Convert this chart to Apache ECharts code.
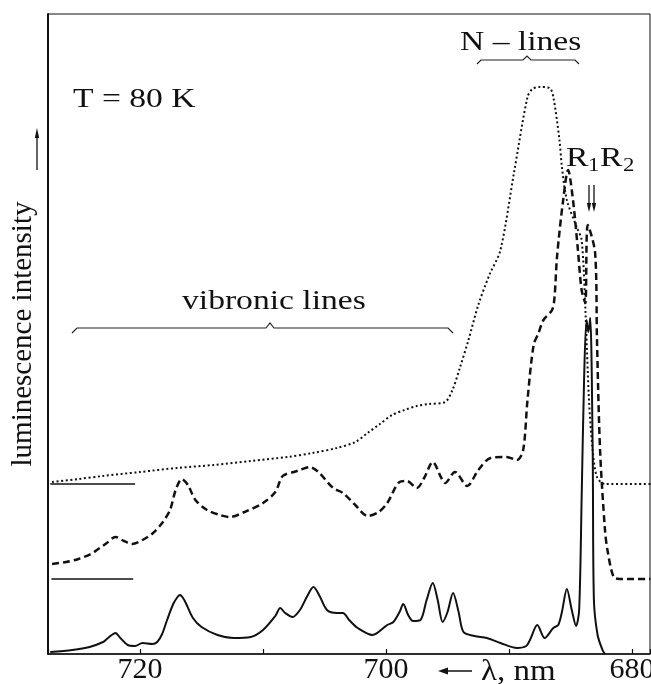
<!DOCTYPE html>
<html>
<head>
<meta charset="utf-8">
<script src="https://cdn.jsdelivr.net/npm/echarts@6/dist/echarts.min.js"></script>
<style>html,body{margin:0;padding:0;background:#fff;}#c{width:651px;height:684px;}</style>
</head>
<body>
<div id="c"></div>
<script>
// wavelength (nm) , intensity (arb. units)
const solidCurve = [[727.3,2],[725.5,4],[724.1,7],[723.0,12],[722.7,15],[722.3,19],[722.0,21],[721.6,16],[721.0,9],[720.4,8],[719.8,11],[719.0,10],[718.6,12],[718.2,20],[717.8,34],[717.3,50],[716.95,57],[716.75,59],[716.5,56],[716.2,49],[715.7,36],[715.0,27],[713.7,19],[712.4,16],[711.0,17],[710.0,24],[709.0,38],[708.6,46],[708.2,41],[707.6,37],[707.0,44],[706.4,58],[705.9,67],[705.4,58],[704.8,44],[704.0,41],[703.5,41],[703.0,34],[702.3,26],[701.1,19],[699.9,29],[699.4,32],[698.9,42],[698.6,50],[698.2,39],[697.8,33],[697.2,34],[696.7,54],[696.2,71],[695.8,54],[695.4,32],[695.0,42],[694.55,61],[694.1,42],[693.7,22],[692.8,18],[691.8,16],[690.7,11],[689.35,6],[688.6,8],[688.3,14],[687.7,29],[687.1,16],[686.4,26],[686.0,29],[685.7,42],[685.3,65],[684.9,44],[684.55,28],[684.3,44],[684.1,154],[683.9,274],[683.7,334],[683.55,322],[683.4,336],[683.2,204],[683.1,54],[682.8,19],[682.4,4],[682.2,0]];
const dashedCurve = [[727.15,90],[726.0,92],[725.0,95],[724.0,100],[723.5,104],[722.7,111],[722.0,117],[721.3,113],[720.65,110],[719.8,114],[718.94,121],[718.2,131],[717.56,144],[717.1,164],[716.6,175],[716.1,169],[715.5,154],[714.55,144],[713.5,139],[712.7,137],[711.5,142],[710.0,151],[709.0,162],[708.4,178],[707.5,182],[707.0,184],[706.2,187],[705.5,182],[704.3,166],[703.5,161],[702.5,149],[701.5,138],[700.6,142],[699.9,151],[698.9,172],[698.3,173],[697.5,166],[696.9,176],[696.2,192],[695.5,176],[695.2,171],[694.4,182],[693.4,168],[692.5,184],[691.5,196],[690.2,197],[689.35,194],[688.85,204],[688.5,254],[688.0,309],[687.6,321],[687.2,334],[686.5,344],[686.3,357],[686.1,397],[685.6,454],[685.2,484],[684.8,454],[684.4,404],[684.1,364],[683.8,351],[683.6,429],[683.0,401],[682.85,314],[682.6,204],[682.2,124],[682.0,104],[681.5,77],[681.0,75],[678.5,75]];
const dottedCurve = [[727.15,172],[725.0,175],[723.0,178],[720.0,182],[717.0,186],[714.0,189],[711.0,193],[708.0,197],[706.0,201],[704.0,206],[702.5,212],[701.5,221],[700.5,230],[699.5,239],[698.5,244],[697.5,248],[696.5,250],[695.2,252],[694.6,264],[694.0,286],[693.3,314],[692.5,349],[691.6,379],[690.7,404],[689.6,481],[688.5,557],[688.1,565],[687.5,567],[686.7,566],[686.4,557],[685.9,514],[685.7,487],[685.3,454],[684.5,427],[684.1,414],[683.8,347],[683.5,254],[683.2,204],[682.85,177],[682.2,170],[678.5,170]];
const baselineMarks = [170, 75];
const xTickLabels = [720, 700, 680];

const chart = echarts.init(document.getElementById('c'), null, {renderer: 'canvas'});
const serif = '"Liberation Serif", serif';
function txt(x, y, s, size, sx) {
  return {type: 'text', x: x, y: y, scaleX: sx || 1.2, style: {text: s, fontFamily: serif, fontSize: size, fill: '#111', verticalAlign: 'middle', align: 'left'}};
}
function line(x1, y1, x2, y2, w) {
  return {type: 'line', shape: {x1: x1, y1: y1, x2: x2, y2: y2}, style: {stroke: '#111', lineWidth: w || 1.3}};
}
function tri(pts) {
  return {type: 'polygon', shape: {points: pts}, style: {fill: '#111'}};
}
function brace(pts) {
  return {type: 'polyline', shape: {points: pts}, style: {stroke: '#222', lineWidth: 1.2, fill: null}};
}
const option = {
  backgroundColor: '#fff',
  animation: false,
  grid: {left: 48, right: 1, top: 14, bottom: 30, show: true, borderColor: '#111', borderWidth: 1, containLabel: false, outerBoundsMode: 'none'},
  xAxis: {
    type: 'value', inverse: true, min: 678.54, max: 727.48,
    axisLine: {show: true, lineStyle: {color: '#111', width: 1.5}},
    axisTick: {show: true, inside: true, length: 5, lineStyle: {color: '#111', width: 1.2}},
    splitLine: {show: false},
    axisLabel: {
      color: '#111', fontFamily: serif, fontSize: 30, margin: 1,
      formatter: function (v) { return xTickLabels.indexOf(v) >= 0 ? String(v) : ''; }
    }
  },
  yAxis: {
    type: 'value', min: 0, max: 640,
    axisLine: {show: true, lineStyle: {color: '#111', width: 2}},
    axisTick: {show: false}, axisLabel: {show: false}, splitLine: {show: false},
    name: 'luminescence intensity', nameLocation: 'middle', nameRotate: 90, nameGap: 10,
    nameTextStyle: {fontFamily: serif, fontSize: 29, color: '#111'}
  },
  series: [
    {type: 'line', data: solidCurve, showSymbol: false, smooth: 0.3, lineStyle: {color: '#111', width: 2}},
    {type: 'line', data: dashedCurve, showSymbol: false, smooth: 0.3, lineStyle: {color: '#111', width: 2.5, type: [7, 4]},
      markLine: {silent: true, symbol: 'none', label: {show: false}, lineStyle: {color: '#111', width: 1.5, type: 'solid'},
        data: [[{coord: [727.2, baselineMarks[1]]}, {coord: [720.55, baselineMarks[1]]}]]}},
    {type: 'line', data: dottedCurve, showSymbol: false, smooth: 0.3, lineStyle: {color: '#111', width: 2, type: [2, 2.6]},
      markLine: {silent: true, symbol: 'none', label: {show: false}, lineStyle: {color: '#111', width: 1.5, type: 'solid'},
        data: [[{coord: [727.3, baselineMarks[0]]}, {coord: [720.4, baselineMarks[0]]}]]}}
  ],
  graphic: [
    txt(73, 100, 'T = 80 K', 28),
    txt(460, 43, 'N \u2013 lines', 28),
    brace([[477, 64], [481, 60], [523, 60], [527, 56], [531, 60], [575, 60], [579, 64]]),
    txt(182, 302, 'vibronic lines', 28),
    brace([[72, 333], [77, 328], [266, 328], [270, 323], [274, 328], [448, 328], [453, 333]]),
    txt(566, 159, 'R', 28),
    txt(588, 166, '1', 19),
    txt(600, 159, 'R', 28),
    txt(623, 166, '2', 19),
    line(589, 185, 589, 205), tri([[589, 212], [586.8, 203], [591.2, 203]]),
    line(594, 185, 594, 205), tri([[594, 212], [591.8, 203], [596.2, 203]]),
    line(37, 170, 37, 136, 1.3), tri([[37, 128], [34.8, 138], [39.2, 138]]),
    line(445, 671, 472, 671, 1.5), tri([[438, 671], [448, 667.5], [448, 674.5]]),
    txt(481, 672, '\u03bb, nm', 30, 1.1)
  ]
};
chart.setOption(option);
</script>
</body>
</html>
